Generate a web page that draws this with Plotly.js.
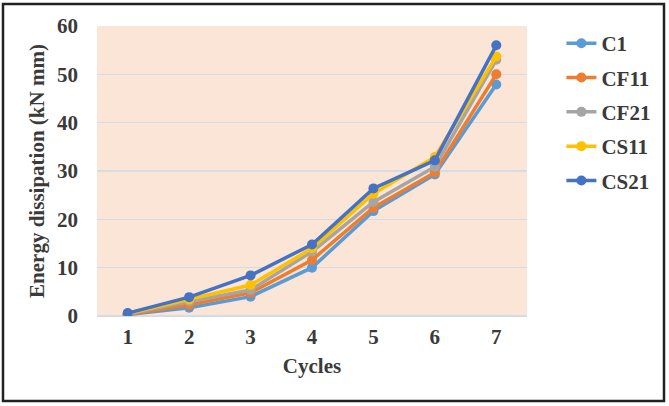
<!DOCTYPE html>
<html>
<head>
<meta charset="utf-8">
<script src="https://cdn.plot.ly/plotly-3.0.1.min.js"></script>
<style>
html,body{margin:0;padding:0;background:#fff;}
#chart{width:669px;height:406px;}
</style>
</head>
<body>
<div id="chart"></div>
<script>
const cycles = [1, 2, 3, 4, 5, 6, 7];
const seriesNames = ["C1", "CF11", "CF21", "CS11", "CS21"];
const C1   = [0.3, 1.7, 4.0, 10.0, 21.7, 29.3, 47.9];
const CF11 = [0.3, 2.3, 4.8, 11.6, 22.4, 29.7, 50.0];
const CF21 = [0.4, 3.0, 5.4, 13.3, 23.6, 30.9, 53.0];
const CS11 = [0.5, 3.4, 6.4, 14.0, 25.3, 32.9, 53.7];
const CS21 = [0.6, 3.9, 8.4, 14.8, 26.4, 32.2, 56.0];
const colors = ["#5B9BD5", "#ED7D31", "#A5A5A5", "#FFC000", "#4472C4"];
const yTicks = [0, 10, 20, 30, 40, 50, 60];

const values = [C1, CF11, CF21, CS11, CS21];
const traces = seriesNames.map((name, i) => ({
  x: cycles,
  y: values[i],
  name: name,
  legendgroup: name,
  type: "scatter",
  mode: "lines+markers",
  line: {color: colors[i], width: 3.5},
  marker: {color: colors[i], size: 10}
}));

const fam = "Liberation Serif, Times New Roman, serif";
const txt = "#3a3a3a";

const layout = {
  width: 669,
  height: 406,
  paper_bgcolor: "#ffffff",
  plot_bgcolor: "#FBE5D6",
  margin: {l: 97, r: 142, t: 26, b: 90},
  font: {family: fam, color: txt},
  showlegend: true,
  legend: {
    x: 1.08, xanchor: "left",
    y: 1.01, yanchor: "top",
    traceorder: "grouped",
    tracegroupgap: 4,
    font: {family: fam, color: txt, size: 21, weight: "bold"},
    bgcolor: "rgba(0,0,0,0)"
  },
  xaxis: {
    range: [0.5, 7.5],
    tickvals: cycles,
    ticktext: cycles.map(String),
    showgrid: false,
    zeroline: false,
    showline: false,
    ticks: "",
    ticklabelstandoff: 6,
    tickfont: {family: fam, size: 21, color: txt, weight: "bold"},
    title: {text: "Cycles", standoff: 10, font: {family: fam, size: 21, color: txt, weight: "bold"}}
  },
  yaxis: {
    range: [0, 60],
    tickvals: yTicks,
    ticktext: yTicks.map(String),
    showgrid: true,
    gridcolor: "#D5DCE4",
    gridwidth: 1.5,
    zeroline: true,
    zerolinecolor: "#D5DCE4",
    zerolinewidth: 1.5,
    showline: false,
    ticks: "",
    ticklabelstandoff: 18,
    tickfont: {family: fam, size: 21, color: txt, weight: "bold"},
    title: {text: "Energy dissipation (kN mm)", standoff: 6, font: {family: fam, size: 21, color: txt, weight: "bold"}}
  },
  shapes: [{
    type: "rect", xref: "paper", yref: "paper",
    x0: -0.2186, x1: 1.3186, y0: -0.293, y1: 1.0759,
    line: {color: "#222222", width: 2.5},
    fillcolor: "rgba(0,0,0,0)",
    layer: "above"
  }]
};

Plotly.newPlot("chart", traces, layout, {displayModeBar: false, staticPlot: true});
</script>
</body>
</html>
